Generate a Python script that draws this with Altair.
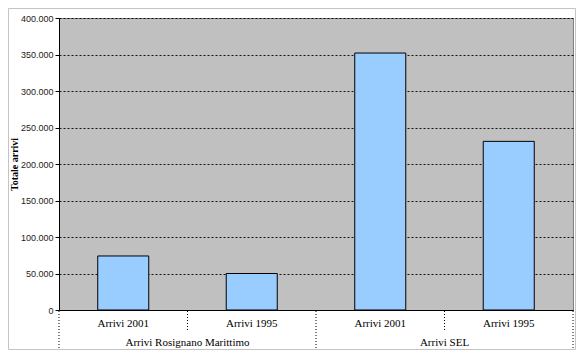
import altair as alt
import pandas as pd

categories = ["Arrivi 2001", "Arrivi 1995", "Arrivi 2001", "Arrivi 1995"]
groups = ["Arrivi Rosignano Marittimo", "Arrivi Rosignano Marittimo", "Arrivi SEL", "Arrivi SEL"]
values = [74000, 50000, 352000, 231000]
y_ticks = [0, 50000, 100000, 150000, 200000, 250000, 300000, 350000, 400000]

group_names = ["Arrivi Rosignano Marittimo", "Arrivi SEL"]
group_centers = [1, 3]
sep_pos = [0, 1, 2, 3, 4]
sep_long = [True, False, True, False, True]

W, H = 514, 292

df = pd.DataFrame({
    "key": [f"{g}|{c}" for g, c in zip(groups, categories)],
    "cat": categories,
    "grp": groups,
    "val": values,
})
order = list(df["key"])
band_scale = alt.Scale(paddingInner=0.603, paddingOuter=0.3015)

xband = alt.X("key:N", sort=order, scale=band_scale,
              axis=alt.Axis(labels=False, ticks=False, title=None,
                            domainColor="black", domainWidth=1))

bars = alt.Chart(df).mark_bar(fill="#99CCFF", stroke="black", strokeWidth=1).encode(
    x=xband,
    y=alt.Y("val:Q",
            scale=alt.Scale(domain=[0, 400000], nice=False),
            axis=alt.Axis(values=y_ticks,
                          labelExpr="replace(format(datum.value, ','), ',', '.')",
                          title="Totale arrivi",
                          titleFont="Liberation Serif", titleFontSize=10,
                          titleFontWeight="bold", titleColor="black",
                          titleX=-45, titleY=146, titleBaseline="middle",
                          titleAlign="center",
                          labelFont="Liberation Sans", labelFontSize=9,
                          labelColor="#222", labelPadding=2,
                          tickSize=4, tickColor="black",
                          domainColor="black", domainWidth=1,
                          grid=True, gridColor="black", gridDash=[2, 2],
                          gridWidth=1, gridOpacity=0.9)),
)

cat_labels = alt.Chart(df).mark_text(font="Liberation Serif", fontSize=11,
                                     color="black", baseline="middle").encode(
    x=alt.X("key:N", sort=order, scale=band_scale, axis=None),
    y=alt.value(306),
    text="cat:N",
)

sep_df = pd.DataFrame({"pos": sep_pos, "long": sep_long})
xq = alt.X("pos:Q", scale=alt.Scale(domain=[0, 4], nice=False, zero=False), axis=None)

seps = alt.Chart(sep_df).mark_rule(color="black", strokeDash=[1, 2], strokeWidth=1).encode(
    x=xq,
    y=alt.value(H + 1),
    y2=alt.value(331),
).transform_filter("datum.long")

seps_short = alt.Chart(sep_df).mark_rule(color="black", strokeDash=[1, 2], strokeWidth=1).encode(
    x=xq,
    y=alt.value(H + 1),
    y2=alt.value(312),
).transform_filter("!datum.long")

gdf = pd.DataFrame({"pos": group_centers, "grp": group_names})
grp_labels = alt.Chart(gdf).mark_text(font="Liberation Serif", fontSize=11,
                                      color="black", baseline="middle").encode(
    x=xq,
    y=alt.value(325),
    text="grp:N",
)

frame = alt.Chart(pd.DataFrame({"a": [0]})).mark_rect(
    fill="transparent", stroke="#c4c4c4", strokeWidth=1).encode(
    x=alt.value(-50.5), x2=alt.value(W + 2.5),
    y=alt.value(-9.5), y2=alt.value(331.5),
)

chart = alt.layer(bars, cat_labels, seps, seps_short, grp_labels, frame).resolve_scale(
    x="independent"
).properties(
    width=W, height=H,
    autosize=alt.AutoSizeParams(type="none"),
    padding={"left": 51, "top": 10, "right": 3, "bottom": 40},
    background="white",
).configure_view(fill="#C0C0C0", stroke="#808080", strokeWidth=1)

chart.save("out.html", embed_options={"renderer": "svg", "actions": False})
